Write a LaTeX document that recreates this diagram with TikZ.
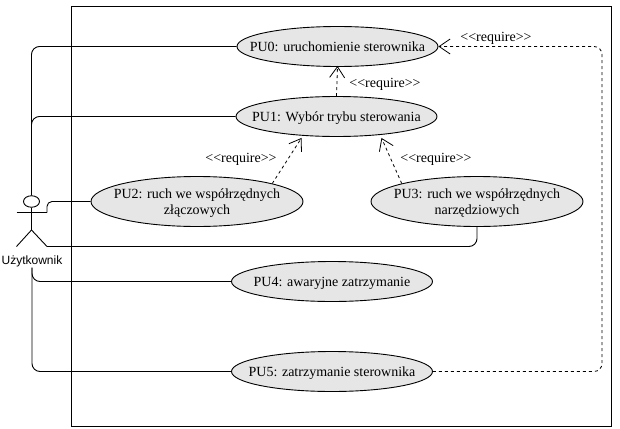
\documentclass[tikz,border=0pt]{standalone}
\usepackage{fontspec}
\setmainfont{Liberation Serif}
\setsansfont{Liberation Sans}
\usetikzlibrary{shapes.geometric,arrows.meta}
\definecolor{casefill}{HTML}{E6E6E6}
\newcommand{\reqlabel}{<{}<require>{}>}

\begin{document}
\begin{tikzpicture}[x=1pt, y=-1pt, font=\fontsize{14}{16}\selectfont, line width=0.9pt,
  usecase/.style={draw, ellipse, fill=casefill, inner xsep=-40pt, inner ysep=0pt, align=center,
    text depth=0pt, minimum width=201pt, minimum height=40pt},
  link/.style={rounded corners=8pt},
  req/.style={dashed, dash pattern=on 3pt off 3pt, line width=0.8pt,
    -{Straight Barb[length=11pt, width=15pt, line width=0.8pt]}},
  reqtext/.style={inner sep=0pt, font=\fontsize{14}{16}\selectfont}]
  \useasboundingbox (0,0) rectangle (620,428);
  % System boundary
  \draw (71.5,6.5) rectangle (611.5,426.5);
  % Use cases
  \node[usecase] (pu0) at (337.5,46.5) {PU0: uruchomienie sterownika};
  \node[usecase] (pu1) at (336.5,116.5) {PU1: Wybór trybu sterowania};
  \node[usecase, minimum width=212pt, minimum height=50pt] (pu2) at (197,201.5) {PU2: ruch we współrzędnych\\złączowych};
  \node[usecase, minimum width=212pt, minimum height=50pt] (pu3) at (477,201.5) {PU3: ruch we współrzędnych\\narzędziowych};
  \node[usecase] (pu4) at (332,281.5) {PU4: awaryjne zatrzymanie};
  \node[usecase] (pu5) at (332,371.5) {PU5: zatrzymanie sterownika};
  % Actor
  \node[draw, ellipse, inner sep=0pt, minimum width=16pt, minimum height=11.5pt] (head) at (31.5,201.5) {};
  \coordinate (hip) at (31.5,230);
  \coordinate (armleft) at (16.5,212.5);
  \coordinate (armright) at (47,212.5);
  \coordinate (legleft) at (16.5,246.5);
  \coordinate (legright) at (47,246.5);
  \coordinate (dashbend) at (602,200);
  \draw (head.south) -- (hip) -- (legleft);
  \draw (hip) -- (legright);
  \draw (armleft) -- (armright);
  \node[font=\sffamily\fontsize{12}{14}\selectfont, inner sep=0pt] (actor) at (32,261.5) {Użytkownik};
  % Actor links
  \draw[link] (pu0.west) -| (head.north);
  \draw[link] (pu1.west) -| (head.north);
  \draw[link, rounded corners=5pt] (pu2.west) -| (armright);
  \draw[link] (legright) -| (pu3.south);
  \draw[link] (pu4.west) -| (actor.south);
  \draw[link] (pu5.west) -| (actor.south);
  % Require links
  \draw[req] (pu1.north) -- ([yshift=1pt]pu0.south);
  \draw[req] (pu2.north east) -- ([xshift=-35pt,yshift=-1pt]pu1.south);
  \draw[req] (pu3.north west) -- ([xshift=45pt,yshift=-1pt]pu1.south);
  \draw[req, rounded corners=8pt] (pu5.east) -| (dashbend) |- (pu0.east);
  % Require labels
  \node[reqtext] (req10) at (385,84) {\reqlabel};
  \node[reqtext] (req21) at (241,159) {\reqlabel};
  \node[reqtext] (req31) at (436,159) {\reqlabel};
  \node[reqtext] (req50) at (496,38) {\reqlabel};
\end{tikzpicture}
\end{document}
